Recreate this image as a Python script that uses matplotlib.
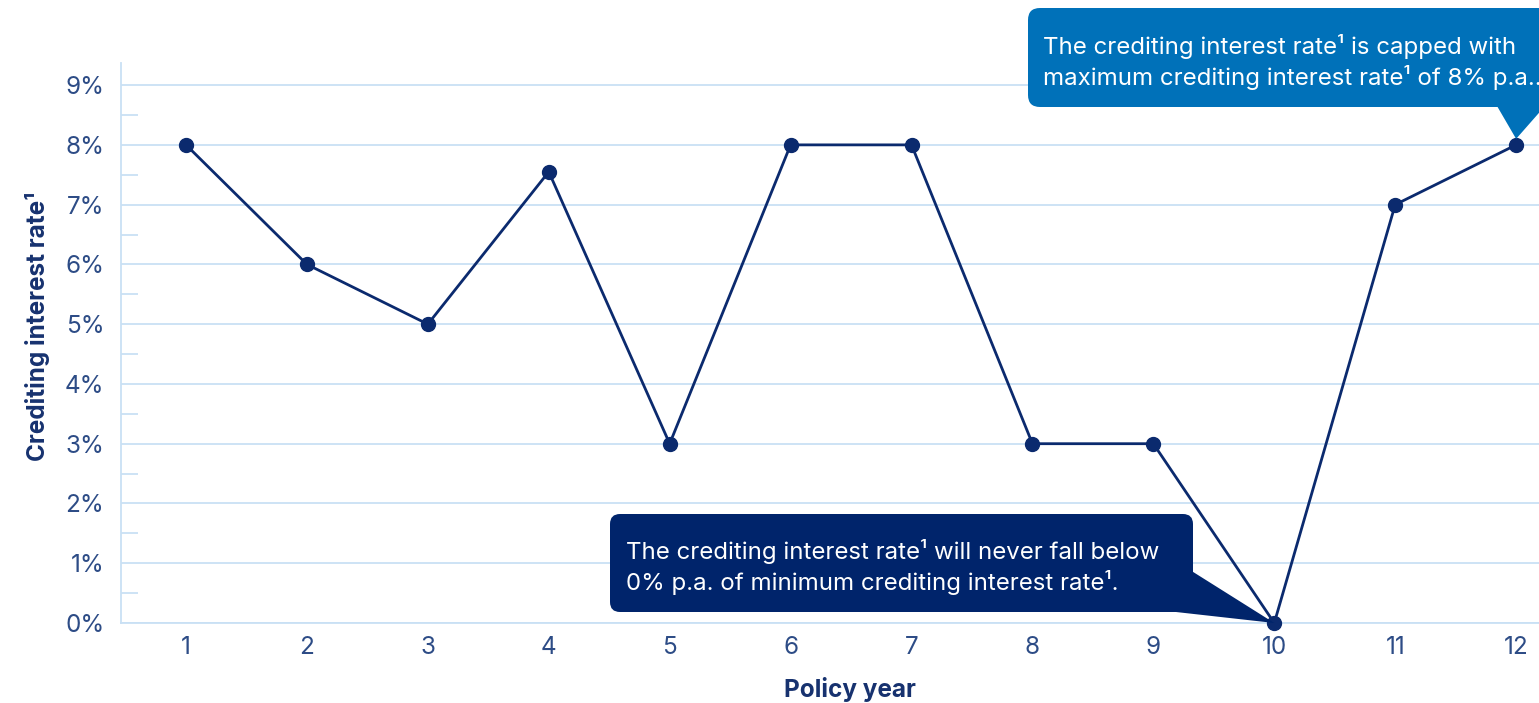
import matplotlib
matplotlib.use("Agg")
import matplotlib.pyplot as plt
from matplotlib.patches import FancyBboxPatch, Polygon
from matplotlib.transforms import IdentityTransform

years = [1, 2, 3, 4, 5, 6, 7, 8, 9, 10, 11, 12]
rates = [8, 6, 5, 7.55, 3, 8, 8, 3, 3, 0, 7, 8]
y_ticks = [0, 1, 2, 3, 4, 5, 6, 7, 8, 9]
y_tick_labels = [f"{v}%" for v in y_ticks]
x_label = "Policy year"
y_label = "Crediting interest rate\u00b9"
cap_text = "The crediting interest rate\u00b9 is capped with\nmaximum crediting interest rate\u00b9 of 8% p.a.."
floor_text = "The crediting interest rate\u00b9 will never fall below\n0% p.a. of minimum crediting interest rate\u00b9."

plt.rcParams['font.family'] = ['Inter', 'DejaVu Sans']

W, H = 1539, 703
fig = plt.figure(figsize=(W / 100, H / 100), dpi=100)
ax = fig.add_axes([121 / W, 1 - 623 / H, (1579 - 121) / W, (623 - 63) / H])

line_c = '#0b2a6e'
grid_c = '#c9e0f4'
tick_c = '#2d4c86'
lab_c = '#17326f'

ax.plot(years, rates, color=line_c, lw=2.0, marker='o', ms=10, zorder=3, clip_on=False)
ax.set_xlim(0.4624, 12.52)
ax.set_ylim(0, 9.37)
ax.set_xticks(years)
ax.set_xticklabels([str(v) for v in years])
ax.set_yticks(y_ticks)
ax.set_yticklabels(y_tick_labels)
ax.set_yticks([v + 0.5 for v in y_ticks[:-1]], minor=True)
ax.grid(axis='y', which='major', color=grid_c, lw=1.3)
ax.set_axisbelow(True)
for s in ['top', 'right']:
    ax.spines[s].set_visible(False)
for s in ['left', 'bottom']:
    ax.spines[s].set_color(grid_c)
    ax.spines[s].set_linewidth(1.3)
ax.tick_params(axis='y', which='major', length=0, pad=12, labelsize=17.5, labelcolor=tick_c)
ax.tick_params(axis='y', which='minor', direction='in', length=12, width=1.3, color=grid_c)
ax.tick_params(axis='x', length=0, pad=9, labelsize=17.5, labelcolor=tick_c)
ax.set_xlabel(x_label, fontsize=17.5, fontweight='bold', color=lab_c, labelpad=13)
ax.set_ylabel(y_label, fontsize=17.5, fontweight='bold', color=lab_c, va='center')
ax.yaxis.set_label_coords(-0.057, 0.529)

fig.canvas.draw()

def px(x, y):
    return (x, H - y)

# cap callout (top right)
top_c = '#0071b9'
tip = ax.transData.transform((years[-1], rates[-1]))
box = FancyBboxPatch(px(1028, 107), 540, 99, boxstyle='round,pad=0,rounding_size=12',
                     transform=IdentityTransform(), facecolor=top_c, edgecolor='none', zorder=5)
fig.patches.append(box)
tri = Polygon([px(1497, 106), (tip[0], tip[1] + 6), px(1545, 106)], closed=True,
              transform=IdentityTransform(), facecolor=top_c, edgecolor='none', zorder=5)
fig.patches.append(tri)
fig.text(1043 / W, 1 - 62 / H, cap_text, color='white', fontsize=17.3, va='center', ha='left',
         linespacing=1.32, zorder=6)

# floor callout (bottom)
bot_c = '#00246b'
tip2 = ax.transData.transform((years[9], rates[9]))
box2 = FancyBboxPatch(px(610, 612), 583, 98, boxstyle='round,pad=0,rounding_size=10',
                      transform=IdentityTransform(), facecolor=bot_c, edgecolor='none', zorder=5)
fig.patches.append(box2)
tri2 = Polygon([px(1190, 570), tip2, px(1176, 612)], closed=True,
               transform=IdentityTransform(), facecolor=bot_c, edgecolor='none', zorder=5)
fig.patches.append(tri2)
fig.text(626 / W, 1 - 567 / H, floor_text, color='white', fontsize=17.3, va='center', ha='left',
         linespacing=1.32, zorder=6)

fig.savefig('out.png', dpi=100)
